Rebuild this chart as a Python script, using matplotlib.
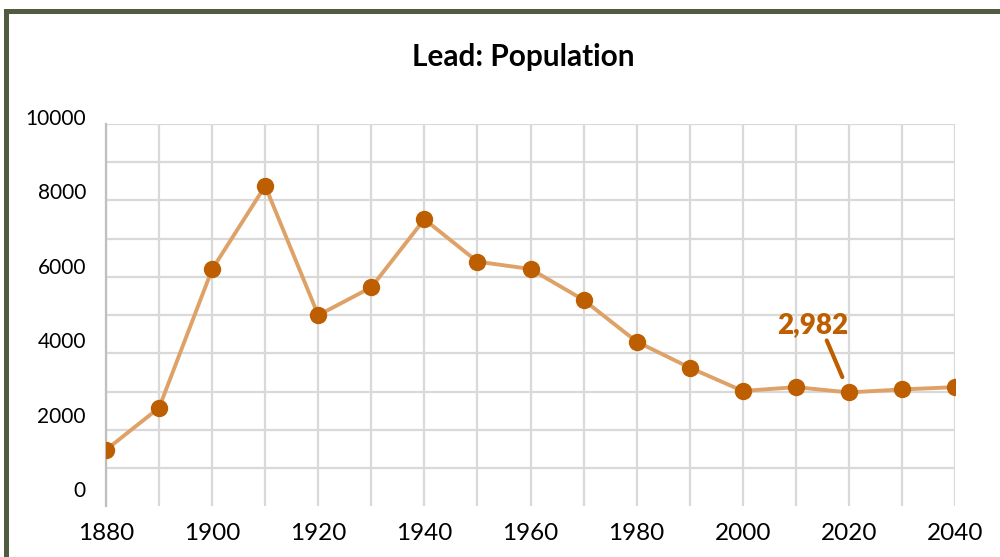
import numpy as np
import matplotlib.pyplot as plt
from matplotlib.patches import Rectangle

# population of Lead
years = [1880, 1890, 1900, 1910, 1920, 1930, 1940, 1950, 1960,
         1970, 1980, 1990, 2000, 2010, 2020, 2030, 2040]
population = [1480, 2580, 6200, 8380, 5000, 5730, 7510, 6400, 6210,
              5400, 4310, 3630, 3020, 3120, 2982, 3060, 3120]
x_labels = [1880, 1900, 1920, 1940, 1960, 1980, 2000, 2020, 2040]
y_labels = [0, 2000, 4000, 6000, 8000, 10000]
callout_year = 2020
callout_value = 2982

plt.rcParams['font.family'] = ['Lato', 'DejaVu Sans']

line_color = '#dea269'
marker_color = '#bd5e00'
grid_color = '#d9d9d9'

fig = plt.figure(figsize=(10, 5.57), dpi=100)
ax = fig.add_axes([0.106, 0.0907, 0.849, 0.6867])

ax.plot(years, population, color=line_color, lw=2.8, zorder=3,
        marker='o', markersize=11.5, markerfacecolor=marker_color,
        markeredgecolor=marker_color)

ax.set_xlim(1880, 2040)
ax.set_ylim(0, 10000)
ax.set_xticks(np.arange(1880, 2041, 10))
ax.set_xticklabels([str(y) if y in x_labels else '' for y in range(1880, 2041, 10)],
                   fontsize=17.5)
ax.set_yticks(np.arange(1000, 10001, 1000))
ax.set_yticklabels([])
ax.tick_params(length=0, pad=12)
ax.grid(True, color=grid_color, lw=1.6, zorder=0)
ax.set_axisbelow(True)
for side in ['top', 'right', 'bottom']:
    ax.spines[side].set_visible(False)
ax.spines['left'].set_color('#bfbfbf')
ax.spines['left'].set_linewidth(1.6)

# the y labels in the original are spaced a little tighter than the grid,
# so they get their own invisible axis
ax_lab = fig.add_axes([0.106, 0.0907, 0.849, 0.6993], frameon=False)
ax_lab.patch.set_visible(False)
ax_lab.set_xticks([])
ax_lab.set_yticks(y_labels)
ax_lab.set_yticklabels([str(v) for v in y_labels], fontsize=15)
ax_lab.set_ylim(-470, 10000)
ax_lab.tick_params(length=0, pad=14.4)

ax.annotate(f'{callout_value:,}', xy=(callout_year, callout_value),
            xytext=(-26, 43), textcoords='offset points',
            ha='center', va='baseline', fontsize=20, weight='heavy',
            color=marker_color,
            arrowprops=dict(arrowstyle='-', color=marker_color, lw=3.0,
                            shrinkA=0, shrinkB=12, relpos=(0.68, 0.0)))

fig.text(0.523, 1 - 57 / 557, 'Lead: Population', ha='center', va='center',
         fontsize=21.4, weight='bold')

fig.patches.append(Rectangle((5.5 / 1000, -0.1), 1.5, (557 - 10.5) / 557 + 0.1,
                             transform=fig.transFigure, fill=False,
                             edgecolor='#505c40', lw=3.6, clip_on=False))

fig.savefig('out.png', dpi=100)
